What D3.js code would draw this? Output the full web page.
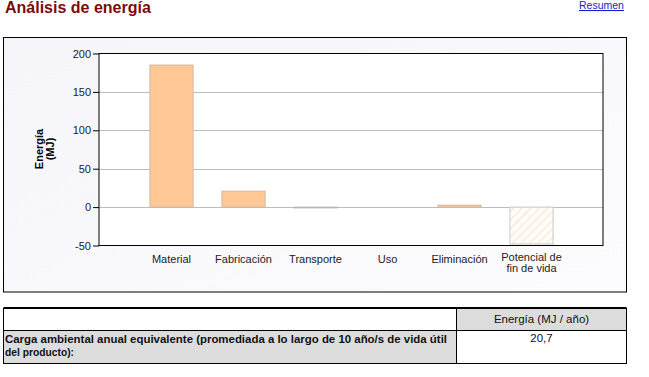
<!DOCTYPE html>
<html><head><meta charset="utf-8">
<script src="https://cdn.jsdelivr.net/npm/d3@7"></script>
<style>
body{margin:0;background:#fff;}
svg{display:block;font-family:Arial,"Liberation Sans",sans-serif;}
</style></head>
<body>
<svg id="c" width="649" height="377"></svg>
<script>
const categories = ["Material","Fabricación","Transporte","Uso","Eliminación","Potencial de|fin de vida"];
const values = [185, 20.8, -1, 0, 2.5, -48];
const hatched = [false,false,false,false,false,true];
const yTicks = [-50, 0, 50, 100, 150, 200];
const gridValues = [0, 50, 100, 150];
const tableHeader = ["", "Energía (MJ / año)"];
const tableRowLabel = ["Carga ambiental anual equivalente (promediada a lo largo de 10 año/s de vida útil", "del producto):"];
const tableRowValue = ["20,7"];

const svg = d3.select("#c");
const defs = svg.append("defs");
const grad = defs.append("linearGradient").attr("id","bg").attr("x1",0).attr("y1",0).attr("x2",1).attr("y2",1);
grad.append("stop").attr("offset","0%").attr("stop-color","#f5f5fa");
grad.append("stop").attr("offset","100%").attr("stop-color","#fcfcfe");
const pat = defs.append("pattern").attr("id","hatch").attr("patternUnits","userSpaceOnUse")
  .attr("width",6).attr("height",6).attr("patternTransform","rotate(45)");
pat.append("rect").attr("width",6).attr("height",6).attr("fill","#fffdfa");
pat.append("line").attr("x1",0).attr("y1",0).attr("x2",0).attr("y2",6).attr("stroke","#fadcbc").attr("stroke-width",1.6);

// title & link
svg.append("text").attr("x",5).attr("y",13).attr("font-size",16).attr("font-weight","bold")
  .attr("fill","#7d0b0b").text("Análisis de energía");
svg.append("text").attr("x",579).attr("y",9).attr("font-size",10.5).attr("fill","#1a1acc")
  .attr("text-decoration","underline").text("Resumen");

// chart box
svg.append("rect").attr("x",3.5).attr("y",37.5).attr("width",623).attr("height",254.5)
  .attr("fill","url(#bg)").attr("stroke","#000");

const L=99, R=603, T=53.5, B=245.5;
const x = d3.scaleBand().domain(categories).range([L,R]).paddingInner(0.4).paddingOuter(0.7);
const y = d3.scaleLinear().domain([-50,200]).range([B,T]);

svg.append("rect").attr("x",L).attr("y",T).attr("width",R-L).attr("height",B-T).attr("fill","#fff");

svg.append("g").selectAll("line").data(gridValues).join("line")
  .attr("x1",L).attr("x2",R).attr("y1",d=>Math.round(y(d))+0.5).attr("y2",d=>Math.round(y(d))+0.5)
  .attr("stroke","#bdbdbd");

// bars
svg.append("g").selectAll("rect").data(values).join("rect")
  .attr("x",(d,i)=>x(categories[i])+0.5)
  .attr("width",x.bandwidth())
  .attr("y",d=>y(Math.max(0,d)))
  .attr("height",d=>Math.max(0.8,Math.abs(y(d)-y(0))))
  .attr("fill",(d,i)=>hatched[i]?"url(#hatch)":(d<0?"#c8c8c8":"#ffc894"))
  .attr("stroke",(d,i)=>hatched[i]?"#c9c9c9":(d<0?"#b8b8b8":"#d3b9a0"))
  .attr("stroke-width",1)
  .style("display",d=>d===0?"none":null);

// plot frame
svg.append("rect").attr("x",L).attr("y",T).attr("width",R-L).attr("height",B-T)
  .attr("fill","none").attr("stroke","#000");

// y axis
const yAxis = d3.axisLeft(y).tickValues(yTicks).tickSize(6).tickPadding(2).tickFormat(d=>String(d));
const ga = svg.append("g").attr("transform",`translate(${L},0)`).call(yAxis);
ga.select(".domain").remove();
ga.selectAll("line").attr("stroke","#000");
ga.selectAll("text").attr("font-size",11).attr("fill","#222").attr("font-family","Arial,'Liberation Sans',sans-serif");

// x labels
const gx = svg.append("g");
categories.forEach((c,i)=>{
  const lines = c.split("|");
  const t = gx.append("text").attr("x",x(c)+x.bandwidth()/2+0.5).attr("y",lines.length>1?261:263)
    .attr("text-anchor","middle").attr("font-size",11).attr("fill","#222");
  lines.forEach((ln,j)=>t.append("tspan").attr("x",x(c)+x.bandwidth()/2+0.5).attr("dy",j?11:0).text(ln));
});

// y label
const yl = svg.append("text").attr("transform","translate(43,149) rotate(-90)")
  .attr("text-anchor","middle").attr("font-size",11).attr("font-weight","bold").attr("fill","#000");
yl.append("tspan").attr("x",0).attr("dy",0).text("Energía");
yl.append("tspan").attr("x",0).attr("dy",11).text("(MJ)");

// table
const tx0=3.5, tx1=456.5, tx2=626.5, ty0=308.5, ty1=330.5, ty2=363.5;
svg.append("rect").attr("x",tx1).attr("y",ty0).attr("width",tx2-tx1).attr("height",ty1-ty0).attr("fill","#dcdcdc");
svg.append("rect").attr("x",tx0).attr("y",ty1).attr("width",tx1-tx0).attr("height",ty2-ty1).attr("fill","#dcdcdc");
svg.append("rect").attr("x",tx0).attr("y",ty0).attr("width",tx2-tx0).attr("height",ty2-ty0).attr("fill","none").attr("stroke","#000");
svg.append("line").attr("x1",tx0).attr("x2",tx2).attr("y1",ty0-0.5).attr("y2",ty0-0.5).attr("stroke","#000").attr("stroke-width",2);
svg.append("line").attr("x1",tx0).attr("x2",tx2).attr("y1",ty1).attr("y2",ty1).attr("stroke","#000");
svg.append("line").attr("x1",tx1).attr("x2",tx1).attr("y1",ty0).attr("y2",ty2).attr("stroke","#000");
svg.append("text").attr("x",(tx1+tx2)/2).attr("y",323).attr("text-anchor","middle").attr("font-size",11.5)
  .attr("fill","#111").text(tableHeader[1]);
tableRowLabel.forEach((t,i)=>{
  const el = svg.append("text").attr("x",5).attr("y",343+i*13).attr("font-size",11.5).attr("font-weight","bold").attr("fill","#111").text(t);
  if(i===0) el.attr("textLength",442).attr("lengthAdjust","spacingAndGlyphs");
  else el.attr("textLength",69).attr("lengthAdjust","spacingAndGlyphs");
});
svg.append("text").attr("x",(tx1+tx2)/2).attr("y",342).attr("text-anchor","middle").attr("font-size",11.5)
  .attr("fill","#111").text(tableRowValue[0]);
</script>
</body></html>
